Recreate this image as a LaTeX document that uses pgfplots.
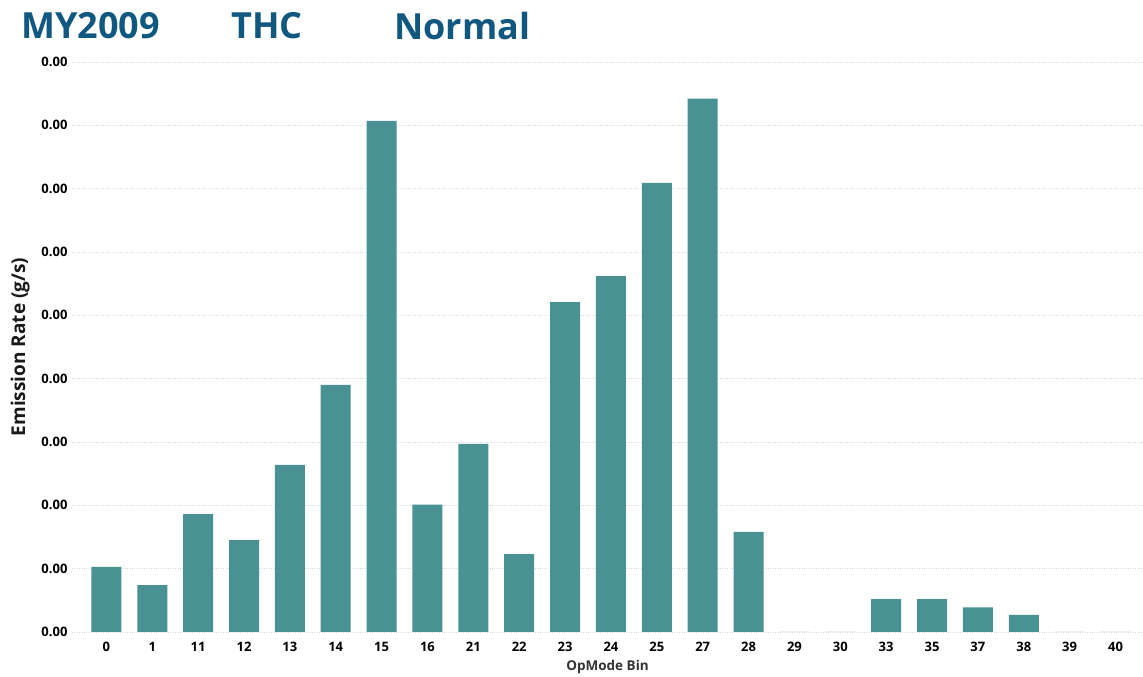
\documentclass[border=0pt]{standalone}
\usepackage{pgfplots}
\pgfplotsset{compat=1.18}
\usepackage{fontspec}
\setmainfont{Open Sans}
\definecolor{barteal}{RGB}{74,145,148}
\definecolor{titleblue}{RGB}{16,88,128}
\definecolor{gridgray}{RGB}{215,215,215}
\begin{document}
\begin{tikzpicture}[x=1pt,y=1pt]
\useasboundingbox (0,0) rectangle (1143,677);
% title
\node[anchor=west,inner sep=0,text=titleblue,font=\fontsize{36}{36}\selectfont\bfseries] at (21,651) {MY2009};
\node[anchor=west,inner sep=0,text=titleblue,font=\fontsize{36}{36}\selectfont\bfseries] at (231,651) {THC};
\node[anchor=west,inner sep=0,text=titleblue,font=\fontsize{36}{36}\selectfont\bfseries] at (394,651) {Normal};
\begin{axis}[
    at={(72pt,45pt)}, anchor=south west,
    scale only axis,
    width=1071pt, height=570pt,
    xmin=-0.75, xmax=22.6,
    ymin=0, ymax=9,
    axis line style={draw=none},
    tick style={draw=none},
    ybar, bar width=30pt,
    xtick=data,
    xticklabels={0,1,11,12,13,14,15,16,21,22,23,24,25,27,28,29,30,33,35,37,38,39,40},
    ytick={0,1,...,9},
    yticklabels={0.00,0.00,0.00,0.00,0.00,0.00,0.00,0.00,0.00,0.00},
    ymajorgrids,
    major grid style={gridgray, dotted, line width=0.8pt},
    ticklabel style={font=\fontsize{13}{13}\selectfont\bfseries},
    /pgf/number format/assume math mode=true,
    yticklabel style={xshift=-1pt},
    xticklabel style={yshift=-2pt},
    xlabel={OpMode Bin},
    ylabel={Emission Rate (g/s)},
    xlabel style={font=\fontsize{13.5}{13.5}\selectfont\bfseries, text=black!80, yshift=-2pt},
    ylabel style={font=\fontsize{19}{19}\selectfont\bfseries, text=black!90, yshift=5pt},
]
\addplot[fill=barteal, draw=none] coordinates {
  (0,1.03) (1,0.74) (2,1.86) (3,1.45) (4,2.64) (5,3.90) (6,8.07)
  (7,2.01) (8,2.97) (9,1.23) (10,5.21) (11,5.62) (12,7.09) (13,8.42)
  (14,1.58) (15,0) (16,0) (17,0.52) (18,0.52) (19,0.39) (20,0.27)
  (21,0) (22,0)
};
\end{axis}
\end{tikzpicture}
\end{document}
